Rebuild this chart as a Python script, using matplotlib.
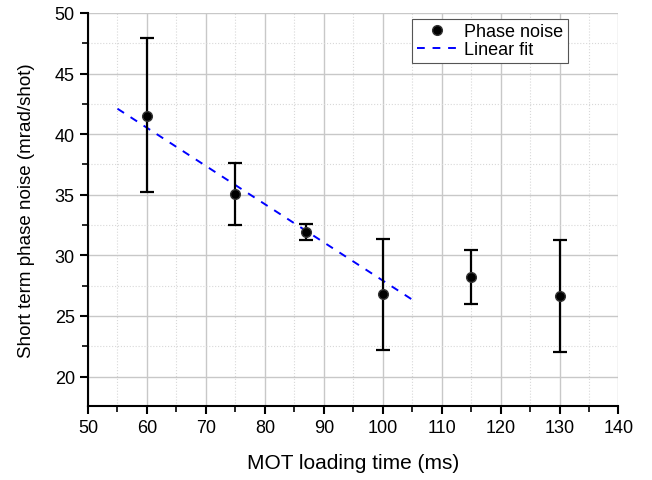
import matplotlib.pyplot as plt
from matplotlib.ticker import MultipleLocator

plt.rcParams['font.family'] = ['Liberation Sans', 'DejaVu Sans']

# measured phase noise
load_time = [60, 75, 87, 100, 115, 130]
noise = [41.5, 35.05, 31.95, 26.8, 28.25, 26.65]
err_low = [35.2, 32.5, 31.3, 22.2, 26.0, 22.0]
err_high = [47.9, 37.6, 32.55, 31.35, 30.45, 31.3]

# linear fit drawn over the first points
fit_x = [55, 105]
fit_y = [42.1, 26.35]


def main():
    fig = plt.figure(figsize=(6.52, 4.81), dpi=100)
    ax = fig.add_axes([0.135, 0.1545, 0.8136, 0.8165])

    yerr = [[n - lo for n, lo in zip(noise, err_low)],
            [hi - n for n, hi in zip(noise, err_high)]]
    ax.errorbar(load_time, noise, yerr=yerr, fmt='none', ecolor='black',
                elinewidth=1.6, capsize=5, capthick=1.6, zorder=3)
    ax.plot(load_time, noise, 'o', color='black', markersize=7,
            markeredgecolor='#333333', label='Phase noise', zorder=4)
    ax.plot(fit_x, fit_y, '--', color='blue', linewidth=1.4,
            dashes=(4, 4), label='Linear fit', zorder=2)

    ax.set_xlim(50, 140)
    ax.set_ylim(17.6, 50)
    ax.xaxis.set_major_locator(MultipleLocator(10))
    ax.xaxis.set_minor_locator(MultipleLocator(5))
    ax.yaxis.set_major_locator(MultipleLocator(5))
    ax.yaxis.set_minor_locator(MultipleLocator(2.5))

    ax.grid(which='major', color='#c8c8c8', linewidth=1.0)
    ax.grid(which='minor', color='#d8d8d8', linewidth=0.8, linestyle=':')
    ax.set_axisbelow(True)

    for s in ['top', 'right']:
        ax.spines[s].set_visible(False)
    for s in ['left', 'bottom']:
        ax.spines[s].set_linewidth(1.5)

    ax.tick_params(which='major', direction='out', length=6, width=1.5,
                   labelsize=13)
    ax.tick_params(which='minor', direction='out', length=4, width=1.2)

    ax.set_xlabel('MOT loading time (ms)', fontsize=15, labelpad=12)
    ax.set_ylabel('Short term phase noise (mrad/shot)', fontsize=13.5,
                  labelpad=14)

    leg = ax.legend(loc='upper right', fontsize=13, fancybox=False,
                    edgecolor='#555555', framealpha=1, handlelength=2.3,
                    borderaxespad=0.0, handletextpad=0.35, borderpad=0.25,
                    labelspacing=0.05, bbox_to_anchor=(0.905, 0.985))
    leg.get_frame().set_linewidth(0.8)

    fig.savefig('out.png', dpi=100)
    plt.close(fig)


if __name__ == "__main__":
    main()
